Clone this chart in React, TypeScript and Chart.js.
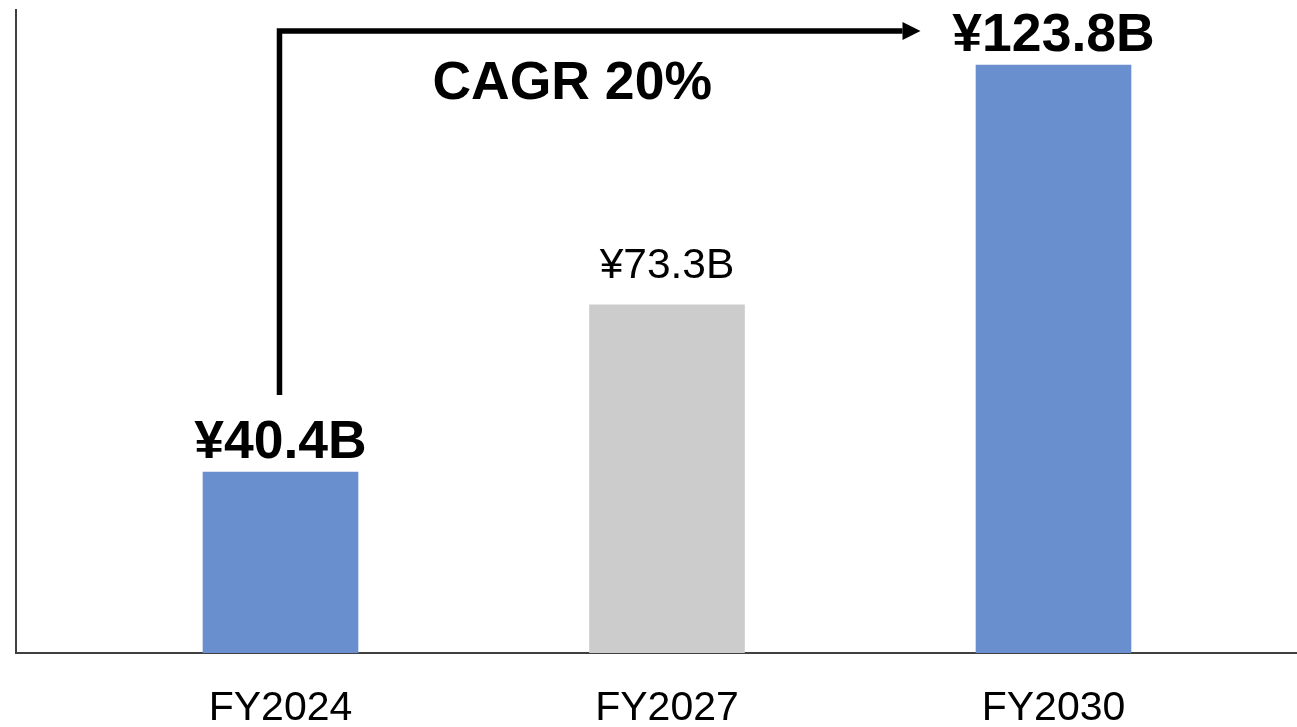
import React, { useEffect, useRef } from "react";
import { Chart, registerables } from "chart.js";

Chart.register(...registerables);

const categories = ["FY2024", "FY2027", "FY2030"];
const barValues = [38.1, 73.3, 123.8];
const valueLabels = ["¥40.4B", "¥73.3B", "¥123.8B"];
const labelBold = [true, false, true];
const barColors = ["#6A8FCF", "#CCCCCC", "#6A8FCF"];
const cagrText = "CAGR 20%";

const FONT = "'Liberation Sans', Arial, Helvetica, sans-serif";

const annotationPlugin = {
  id: "annotations",
  afterDatasetsDraw(chart: any) {
    const ctx = chart.ctx as CanvasRenderingContext2D;
    const meta = chart.getDatasetMeta(0);
    const area = chart.chartArea;
    ctx.save();
    ctx.fillStyle = "#000";
    ctx.textAlign = "center";
    ctx.textBaseline = "alphabetic";
    meta.data.forEach((bar: any, i: number) => {
      ctx.font = labelBold[i] ? `bold 53.5px ${FONT}` : `42.5px ${FONT}`;
      ctx.fillText(valueLabels[i], bar.x, bar.y - (labelBold[i] ? 14 : 27));
    });

    // CAGR arrow
    const b0 = meta.data[0];
    const b2 = meta.data[2];
    const x0 = b0.x - 1;
    const yBottom = b0.y - 77;
    const yTop = area.top + 21;
    const tipX = b2.x - 133;
    const headLen = 18;
    ctx.strokeStyle = "#000";
    ctx.lineWidth = 5.5;
    ctx.lineJoin = "miter";
    ctx.lineCap = "butt";
    ctx.beginPath();
    ctx.moveTo(x0, yBottom);
    ctx.lineTo(x0, yTop);
    ctx.lineTo(tipX - headLen, yTop);
    ctx.stroke();
    ctx.beginPath();
    ctx.moveTo(tipX - headLen, yTop - 9);
    ctx.lineTo(tipX, yTop);
    ctx.lineTo(tipX - headLen, yTop + 9);
    ctx.closePath();
    ctx.fill();

    ctx.font = `bold 53.5px ${FONT}`;
    ctx.textAlign = "left";
    ctx.fillText(cagrText, b0.x + 152, area.top + 89);
    ctx.restore();
  },
};

export default function App() {
  const canvasRef = useRef<HTMLCanvasElement | null>(null);

  useEffect(() => {
    if (!canvasRef.current) return;
    const chart = new Chart(canvasRef.current, {
      type: "bar",
      data: {
        datasets: [
          {
            data: categories.map((c, i) => ({ x: i, y: barValues[i] })) as any,
            backgroundColor: barColors,
            barThickness: 155,
            borderWidth: 0,
          },
        ],
      },
      options: {
        animation: false,
        responsive: false,
        maintainAspectRatio: false,
        layout: { padding: { left: 16, top: 10, right: 0, bottom: 0 } },
        plugins: {
          legend: { display: false },
          tooltip: { enabled: false },
          title: { display: false },
        },
        scales: {
          x: {
            type: "linear",
            offset: false,
            min: -0.6843,
            max: 2.63,
            grid: { display: false, drawTicks: false },
            border: { display: true, color: "#404040", width: 2 },
            afterBuildTicks: (scale: any) => {
              scale.ticks = categories.map((c, i) => ({ value: i }));
            },
            afterFit: (scale: any) => {
              scale.height = 74;
            },
            ticks: {
              autoSkip: false,
              maxRotation: 0,
              minRotation: 0,
              padding: 31,
              color: "#000",
              font: { family: FONT, size: 41 },
              callback: (value: any, index: number) => categories[index],
            },
          },
          y: {
            type: "linear",
            min: 0,
            max: 135.4,
            grid: { display: false, drawTicks: false },
            border: { display: true, color: "#404040", width: 2 },
            ticks: { display: false },
            afterFit: (scale: any) => {
              scale.width = 0;
            },
          },
        },
      },
      plugins: [annotationPlugin],
    });
    return () => chart.destroy();
  }, []);

  return (
    <div style={{ position: "absolute", left: 0, top: 0, width: 1297, height: 727, background: "#fff" }}>
      <canvas ref={canvasRef} width={1297} height={727} style={{ display: "block" }} />
    </div>
  );
}
